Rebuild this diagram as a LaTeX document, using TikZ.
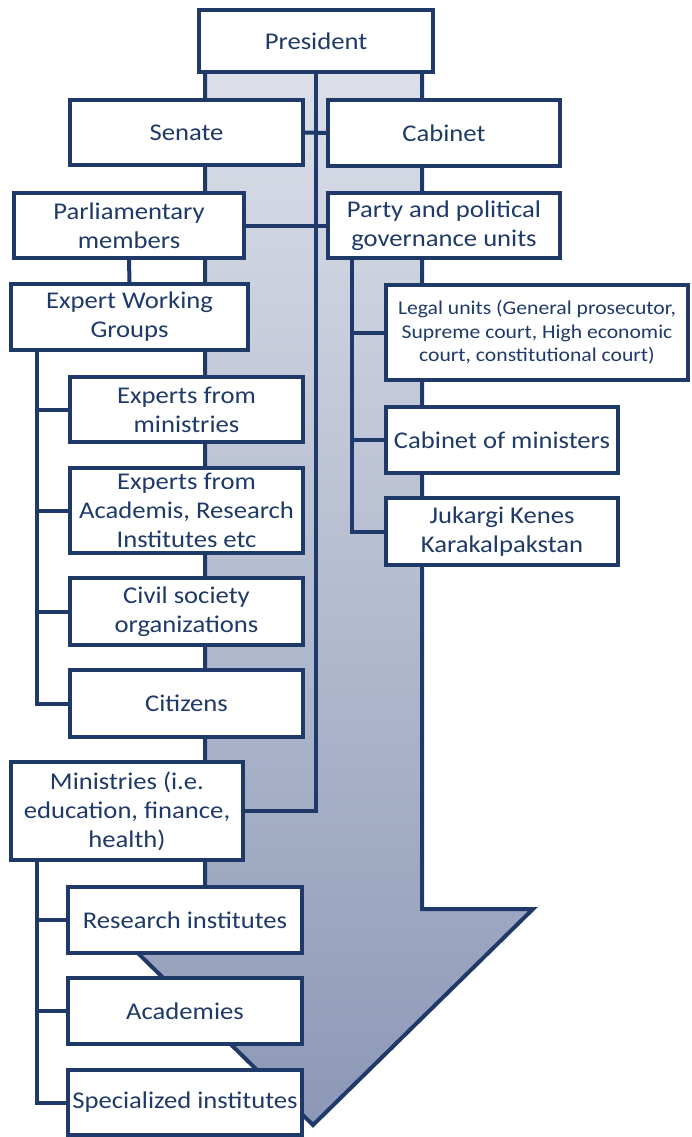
\documentclass[tikz,border=0pt]{standalone}
\usepackage{fontspec}
\setmainfont{Carlito}[FakeStretch=1.11]
\usepackage{tikz}

\definecolor{navy}{RGB}{31,58,104}
\definecolor{arrowtop}{RGB}{222,225,234}
\definecolor{arrowbot}{RGB}{140,152,182}

\pgfdeclarelayer{back}
\pgfdeclarelayer{links}
\pgfsetlayers{back,links,main}

\begin{document}
\begin{tikzpicture}[x=1pt, y=-1pt, every node/.style={draw=navy, line width=4pt, fill=white, text=navy, anchor=north west, align=center, inner sep=0pt, outer sep=0pt, font=\fontsize{24}{29}\selectfont}, link/.style={draw=navy, line width=4pt}]

\useasboundingbox (0,0) rectangle (691,1137);

% Top
\node[minimum width=234pt, minimum height=62pt] (pres) at (199,10) {President};
\node[minimum width=233pt, minimum height=65pt] (senate) at (70,100) {Senate};
\node[minimum width=232pt, minimum height=66pt] (cabinet) at (328,100) {Cabinet};
\node[minimum width=230pt, minimum height=65pt] (parl) at (14,193) {Parliamentary\\members};
\node[minimum width=232pt, minimum height=65pt] (party) at (328,193) {Party and political\\governance units};

% Left column
\node[minimum width=237pt, minimum height=66pt] (ewg) at (11,284) {Expert Working\\Groups};
\node[minimum width=233pt, minimum height=65pt] (exmin) at (70,377) {Experts from\\ministries};
\node[minimum width=233pt, minimum height=85pt] (exacad) at (70,468) {Experts from\\Academis, Research\\Institutes etc};
\node[minimum width=233pt, minimum height=67pt] (civil) at (70,578) {Civil society\\organizations};
\node[minimum width=233pt, minimum height=67pt] (citizens) at (70,670) {Citizens};
\node[minimum width=232pt, minimum height=98pt] (min) at (11,762) {Ministries (i.e.\\education, finance,\\health)};
\node[minimum width=234pt, minimum height=66pt] (research) at (68,887) {Research institutes};
\node[minimum width=234pt, minimum height=66pt] (academies) at (68,978) {Academies};
\node[minimum width=234pt, minimum height=65pt] (special) at (68,1070) {Specialized institutes};

% Right column
\node[minimum width=302pt, minimum height=95pt, font=\fontsize{19.5}{23.5}\selectfont] (legal) at (386,285) {Legal units (General prosecutor,\\Supreme court, High economic\\court, constitutional court)};
\node[minimum width=232pt, minimum height=66pt] (cabmin) at (386,407) {Cabinet of ministers};
\node[minimum width=232pt, minimum height=67pt] (jukargi) at (386,498) {Jukargi Kenes\\Karakalpakstan};

% Bus lines
\coordinate (ewgbus) at (37,350);
\coordinate (partybus) at (352,258);
\coordinate (minbus) at (37,860);

% Big arrow
\begin{pgfonlayer}{back}
\draw[navy, line width=4pt, top color=arrowtop, bottom color=arrowbot] (205,40) -- (205,909) -- (93,909) -- (313,1125) -- (533,909) -- (422,909) -- (422,40) -- cycle;
\end{pgfonlayer}

% Connectors
\begin{pgfonlayer}{links}
\draw[link] (pres.south) |- (min.east);
\draw[link] (senate.east) -- (cabinet.west);
\draw[link] (parl.east) -- (party.west);
\draw[link] (parl.south) -- (ewg.north);
\draw[link] (ewgbus) |- (citizens.west);
\foreach \n in {exmin,exacad,civil}
  \draw[link] (ewgbus |- \n.west) -- (\n.west);
\draw[link] (partybus) |- (jukargi.west);
\foreach \n in {legal,cabmin}
  \draw[link] (partybus |- \n.west) -- (\n.west);
\draw[link] (minbus) |- (special.west);
\foreach \n in {research,academies}
  \draw[link] (minbus |- \n.west) -- (\n.west);
\end{pgfonlayer}

\end{tikzpicture}
\end{document}
